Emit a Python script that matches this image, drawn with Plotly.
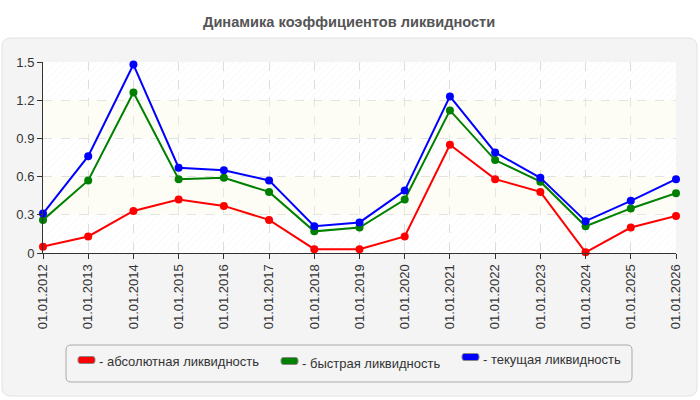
import plotly.graph_objects as go

dates = ["01.01.2012", "01.01.2013", "01.01.2014", "01.01.2015", "01.01.2016",
         "01.01.2017", "01.01.2018", "01.01.2019", "01.01.2020", "01.01.2021",
         "01.01.2022", "01.01.2023", "01.01.2024", "01.01.2025", "01.01.2026"]
absolute = [0.05, 0.13, 0.33, 0.42, 0.37, 0.26, 0.03, 0.03, 0.13, 0.85, 0.58, 0.48, 0.005, 0.20, 0.29]
quick = [0.26, 0.57, 1.26, 0.58, 0.59, 0.48, 0.17, 0.20, 0.42, 1.12, 0.73, 0.56, 0.21, 0.35, 0.47]
current = [0.31, 0.76, 1.48, 0.67, 0.65, 0.57, 0.21, 0.24, 0.49, 1.23, 0.79, 0.59, 0.25, 0.41, 0.58]
names = ["- абсолютная ликвидность", "- быстрая ликвидность", "- текущая ликвидность"]
colors = ["#ff0000", "#008000", "#0000ff"]
y_ticks = [0, 0.3, 0.6, 0.9, 1.2, 1.5]
title = "Динамика коэффициентов ликвидности"

W, H = 700, 400
L, R, T, B = 43, 24, 62, 147
PW, PH = W - L - R, H - T - B
FONT = "Liberation Sans, Arial, sans-serif"


def px(x):
    return (x - L) / PW


def py(y):
    return (H - B - y) / PH


def rounded_path(x0, y0, x1, y1, r):
    pts = [
        f"M{px(x0 + r)},{py(y0)}",
        f"L{px(x1 - r)},{py(y0)}",
        f"Q{px(x1)},{py(y0)} {px(x1)},{py(y0 + r)}",
        f"L{px(x1)},{py(y1 - r)}",
        f"Q{px(x1)},{py(y1)} {px(x1 - r)},{py(y1)}",
        f"L{px(x0 + r)},{py(y1)}",
        f"Q{px(x0)},{py(y1)} {px(x0)},{py(y1 - r)}",
        f"L{px(x0)},{py(y0 + r)}",
        f"Q{px(x0)},{py(y0)} {px(x0 + r)},{py(y0)}",
        "Z",
    ]
    return " ".join(pts)


fig = go.Figure()

# background bands (hatched / cream) across the category range
first, last = dates[0], dates[-1]
for i in range(len(y_ticks) - 1):
    lo, hi = y_ticks[i], y_ticks[i + 1]
    bx = [first, last, last, first, first]
    by = [lo, lo, hi, hi, lo]
    if i % 2 == 0:
        fig.add_trace(go.Scatter(
            x=bx, y=by, fill="toself", mode="none", fillcolor="rgba(0,0,0,0)",
            fillpattern=dict(shape="/", fgcolor="#e4e4e4", bgcolor="rgba(0,0,0,0)",
                             size=5, solidity=0.12, fillmode="overlay"),
            hoverinfo="skip", showlegend=False))
    else:
        fig.add_trace(go.Scatter(
            x=bx, y=by, fill="toself", mode="none", fillcolor="rgba(250,250,225,0.35)",
            hoverinfo="skip", showlegend=False))

for vals, name, col in zip([absolute, quick, current], names, colors):
    fig.add_trace(go.Scatter(
        x=dates, y=vals, name=name, mode="lines+markers",
        line=dict(color=col, width=2),
        marker=dict(color=col, size=8),
        cliponaxis=False, showlegend=False))

shapes = []
# outer gray panel
shapes.append(dict(type="path", xref="paper", yref="paper", layer="below",
                   path=rounded_path(2, 38, 697, 396, 9),
                   fillcolor="#f4f4f4", line=dict(color="#e2e2e2", width=1)))
# plot area white background
shapes.append(dict(type="rect", xref="paper", yref="paper", layer="below",
                   x0=0, x1=1, y0=0, y1=1, fillcolor="#ffffff", line=dict(width=0)))
# legend box
shapes.append(dict(type="path", xref="paper", yref="paper",
                   path=rounded_path(66, 345, 632, 382, 5),
                   fillcolor="rgba(0,0,0,0)", line=dict(color="#aaaaaa", width=1)))

annotations = []
leg_items = [(78, 360, 361), (281, 361, 363), (462, 357, 359)]
for (sx, sy, ty), name, col in zip(leg_items, names, colors):
    shapes.append(dict(type="path", xref="paper", yref="paper",
                       path=rounded_path(sx, sy - 3.5, sx + 17, sy + 3.5, 2.5),
                       fillcolor=col, line=dict(color="#888888", width=1)))
    annotations.append(dict(x=px(sx + 19), y=py(ty), xref="paper", yref="paper",
                            text=name, showarrow=False, xanchor="left", yanchor="middle",
                            font=dict(family=FONT, size=13, color="#333333")))

annotations.append(dict(x=px(349), y=py(22), xref="paper", yref="paper", text="<b>" + title + "</b>",
                        showarrow=False, xanchor="center", yanchor="middle",
                        font=dict(family=FONT, size=14.6, color="#555555")))

fig.update_layout(
    width=W, height=H,
    margin=dict(l=L, r=R, t=T, b=B, pad=0),
    paper_bgcolor="#ffffff", plot_bgcolor="#ffffff",
    font=dict(family=FONT, size=13, color="#333333"),
    shapes=shapes, annotations=annotations, showlegend=False,
    xaxis=dict(type="category", categoryorder="array", categoryarray=dates,
               range=[0, len(dates) - 1], tickangle=-90,
               showline=True, linecolor="#333333", linewidth=1,
               ticks="outside", ticklen=5, tickcolor="#333333",
               showgrid=True, gridcolor="#dddddd", griddash="dash", gridwidth=1,
               tickfont=dict(family=FONT, size=13, color="#333333"), fixedrange=True),
    yaxis=dict(range=[0, 1.5], tickvals=y_ticks, ticktext=["0", "0.3", "0.6", "0.9", "1.2", "1.5"],
               showline=True, linecolor="#333333", linewidth=1,
               ticks="outside", ticklen=5, tickcolor="#333333",
               showgrid=True, gridcolor="#dddddd", griddash="dash", gridwidth=1,
               zeroline=False, tickfont=dict(family=FONT, size=13, color="#333333"),
               fixedrange=True),
)

fig.write_html("out.html")
